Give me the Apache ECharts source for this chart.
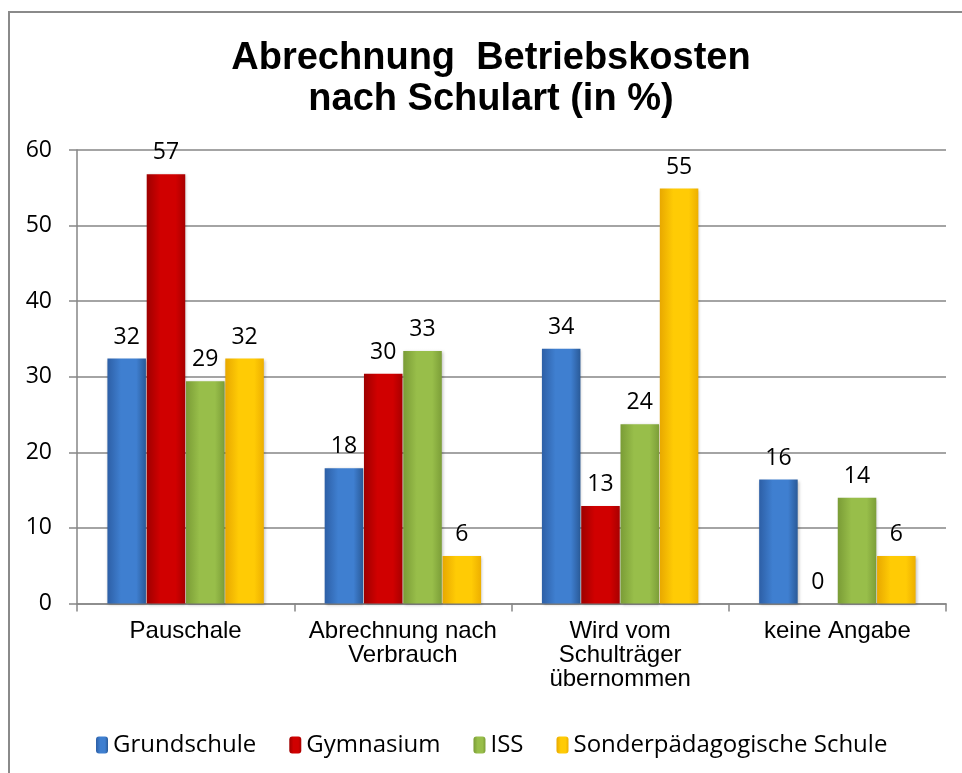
<!DOCTYPE html>
<html>
<head>
<meta charset="utf-8">
<script src="https://cdn.jsdelivr.net/npm/echarts@6/dist/echarts.min.js"></script>
<style>
  html, body { margin: 0; padding: 0; background: #fff; }
  #chart { width: 962px; height: 773px; }
</style>
</head>
<body>
<div id="chart"></div>
<script>
// Kategorien und Werte (in %)
const categories = ['Pauschale', 'Abrechnung nach\nVerbrauch', 'Wird vom\nSchulträger\nübernommen', 'keine Angabe'];
const grundschule = [32.4, 17.9, 33.7, 16.4];
const gymnasium = [56.8, 30.4, 12.9, 0];
const iss = [29.4, 33.4, 23.7, 14.0];
const sonderschule = [32.4, 6.3, 54.9, 6.3];
const yTicks = [0, 10, 20, 30, 40, 50, 60];

const chart = echarts.init(document.getElementById('chart'));

// horizontaler Verlauf für den "Zylinder"-Look der Balken
function shade(edgeL, mid, edgeR) {
  return new echarts.graphic.LinearGradient(0, 0, 1, 0, [
    { offset: 0, color: edgeL },
    { offset: 0.35, color: mid },
    { offset: 0.75, color: mid },
    { offset: 1, color: edgeR }
  ]);
}

const labelFont = { fontFamily: 'Open Sans', fontSize: 23, color: '#000' };

function makeSeries(name, data, color) {
  return {
    name: name,
    type: 'bar',
    data: data,
    barGap: '2%',
    barCategoryGap: '28%',
    itemStyle: {
      color: color,
      shadowColor: 'rgba(0,0,0,0.25)',
      shadowBlur: 3,
      shadowOffsetX: 1,
      shadowOffsetY: 1
    },
    label: {
      show: true,
      position: 'top',
      distance: 10,
      ...labelFont,
      formatter: p => Math.round(p.value)
    }
  };
}

const option = {
  animation: false,
  backgroundColor: '#fff',
  title: {
    text: 'Abrechnung  Betriebskosten\nnach Schulart (in %)',
    left: 491,
    textAlign: 'center',
    top: 38,
    padding: 0,
    textStyle: {
      fontFamily: 'Liberation Sans',
      fontWeight: 'bold',
      fontSize: 38,
      lineHeight: 41,
      color: '#000'
    }
  },
  legend: {
    bottom: 16,
    left: 96,
    padding: 0,
    itemWidth: 12,
    itemHeight: 17,
    itemGap: 33,
    textStyle: { fontFamily: 'Open Sans', fontSize: 24, color: '#000' },
    data: ['Grundschule', 'Gymnasium', 'ISS', 'Sonderpädagogische Schule']
  },
  grid: { left: 77, right: 16, top: 150, bottom: 169.5 },
  xAxis: {
    type: 'category',
    data: categories,
    axisLine: { lineStyle: { color: '#868686', width: 1.5 } },
    axisTick: { show: true, length: 8, lineStyle: { color: '#868686', width: 1.5 } },
    axisLabel: {
      margin: 16,
      interval: 0,
      fontFamily: 'Liberation Sans',
      fontSize: 24,
      lineHeight: 24,
      color: '#000'
    }
  },
  yAxis: {
    type: 'value',
    min: yTicks[0],
    max: yTicks[yTicks.length - 1],
    interval: 10,
    axisLine: { show: true, lineStyle: { color: '#868686', width: 1.5 } },
    axisTick: { show: true, length: 8, lineStyle: { color: '#868686', width: 1.5 } },
    splitLine: { lineStyle: { color: '#868686', width: 1.5 } },
    axisLabel: {
      margin: 25,
      fontFamily: 'Open Sans',
      fontSize: 23,
      color: '#000'
    }
  },
  graphic: [
    {
      type: 'rect',
      shape: { x: 9, y: 12, width: 1000, height: 800 },
      style: { fill: 'none', stroke: '#8a8a8a', lineWidth: 2 },
      silent: true,
      z: -1
    }
  ],
  series: [
    makeSeries('Grundschule', grundschule, shade('#2D5FA6', '#3F7FD0', '#2A5A98')),
    makeSeries('Gymnasium', gymnasium, shade('#9E0000', '#D00000', '#A80000')),
    makeSeries('ISS', iss, shade('#7A9C36', '#98BE4A', '#7C9E38')),
    makeSeries('Sonderpädagogische Schule', sonderschule, shade('#E8A800', '#FFCB05', '#EDAF00'))
  ]
};

chart.setOption(option);
</script>
</body>
</html>
